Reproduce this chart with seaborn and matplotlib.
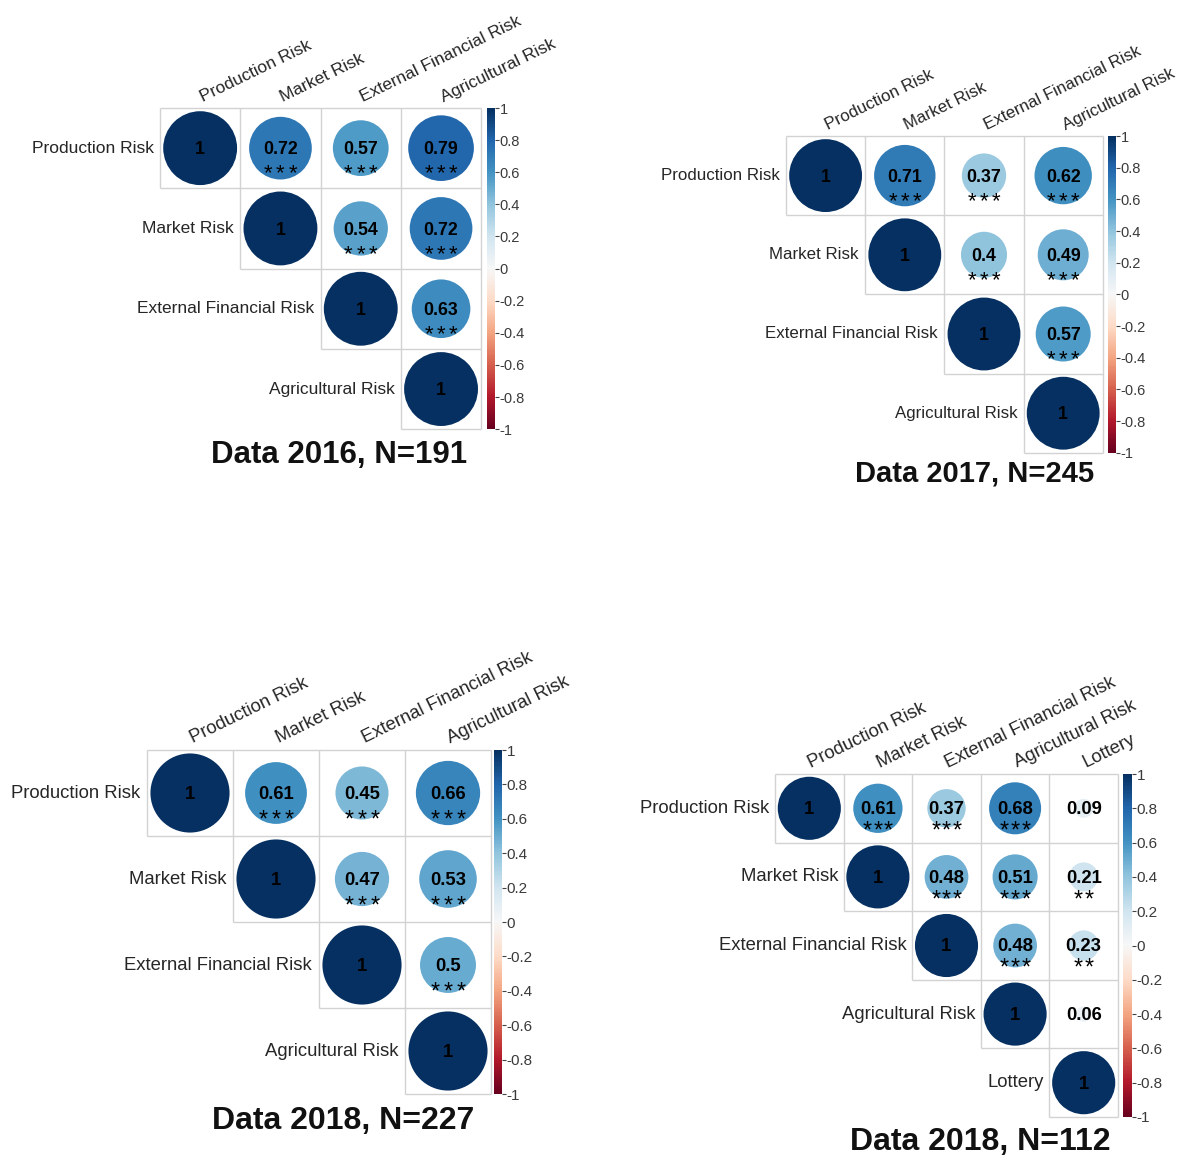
import numpy as np
import pandas as pd
import matplotlib
matplotlib.use("Agg")
import matplotlib.pyplot as plt
import seaborn as sns
from matplotlib.colors import ListedColormap, Normalize
from matplotlib.cm import ScalarMappable

sns.set_style("white")
plt.rcParams["font.family"] = ["Liberation Sans", "DejaVu Sans"]

# ---- variables ----
risks = ["Production Risk", "Market Risk", "External Financial Risk", "Agricultural Risk"]
risks_lottery = ["Production Risk", "Market Risk", "External Financial Risk",
                 "Agricultural Risk", "Lottery"]

# ---- upper-triangle correlations (row by row, off-diagonal) ----
r_2016 = [0.72, 0.57, 0.79,
          0.54, 0.72,
          0.63]
sig_2016 = ["***", "***", "***",
            "***", "***",
            "***"]

r_2017 = [0.71, 0.37, 0.62,
          0.40, 0.49,
          0.57]
sig_2017 = ["***", "***", "***",
            "***", "***",
            "***"]

r_2018 = [0.61, 0.45, 0.66,
          0.47, 0.53,
          0.50]
sig_2018 = ["***", "***", "***",
            "***", "***",
            "***"]

r_2018_lottery = [0.61, 0.37, 0.68, 0.09,
                  0.48, 0.51, 0.21,
                  0.48, 0.23,
                  0.06]
sig_2018_lottery = ["***", "***", "***", "",
                    "***", "***", "**",
                    "***", "**",
                    ""]

titles = ["Data 2016, N=191", "Data 2017, N=245", "Data 2018, N=227", "Data 2018, N=112"]

# ---- figure geometry (pixels) ----
W, H, DPI = 1185, 1160, 100
PX_PER_PT = DPI / 72
fig = plt.figure(figsize=(W / DPI, H / DPI), dpi=DPI)

panels = [
    dict(labels=risks, r=r_2016, sig=sig_2016, title=titles[0],
         left=160, top=108, cell=80.3, cbx=487, cbw=8,
         lab_fs=12.5, num_fs=12.8, cb_fs=10.5, title_xy=(339, 455), title_fs=22.5),
    dict(labels=risks, r=r_2017, sig=sig_2017, title=titles[1],
         left=786, top=136, cell=79.2, cbx=1108, cbw=8,
         lab_fs=12.2, num_fs=12.8, cb_fs=10.5, title_xy=(975, 473), title_fs=21),
    dict(labels=risks, r=r_2018, sig=sig_2018, title=titles[2],
         left=147, top=750, cell=86, cbx=494, cbw=8,
         lab_fs=13.3, num_fs=13.3, cb_fs=11, title_xy=(343, 1121), title_fs=23),
    dict(labels=risks_lottery, r=r_2018_lottery, sig=sig_2018_lottery, title=titles[3],
         left=775, top=774, cell=68.6, cbx=1123, cbw=9,
         lab_fs=13.3, num_fs=13.3, cb_fs=11, title_xy=(980, 1142), title_fs=23),
]

GRID = "#d2d2d2"
LABEL = "#262626"


def fmt(v):
    return f"{v:.2f}".rstrip("0").rstrip(".")


for p in panels:
    labels = p["labels"]
    n = len(labels)
    cell = p["cell"]
    mat = np.eye(n)
    stars = [["" for _ in range(n)] for _ in range(n)]
    k = 0
    for i in range(n):
        for j in range(i + 1, n):
            mat[i, j] = p["r"][k]
            stars[i][j] = p["sig"][k]
            k += 1

    rows = []
    for i in range(n):
        for j in range(i, n):
            rows.append(dict(x=j + 0.5, y=i + 0.5, r=mat[i, j],
                             absr=abs(mat[i, j]), stars=stars[i][j]))
    df = pd.DataFrame(rows)

    size = n * cell
    ax = fig.add_axes([p["left"] / W, 1 - (p["top"] + size) / H, size / W, size / H])

    # white cells of the upper triangle
    mask = np.tril(np.ones((n, n), dtype=bool), k=-1)
    sns.heatmap(mat, mask=mask, cmap=ListedColormap(["white"]), cbar=False,
                linewidths=0, xticklabels=False, yticklabels=False, ax=ax)

    # staircase grid around the upper-triangle cells
    for kk in range(n + 1):
        ax.hlines(kk, max(kk - 1, 0), n, color=GRID, lw=1.0, clip_on=False, zorder=2)
        ax.vlines(kk, 0, min(kk + 1, n), color=GRID, lw=1.0, clip_on=False, zorder=2)

    # circles: area proportional to |r|, colour on RdBu from -1 to 1
    s_max = (0.92 * cell / PX_PER_PT) ** 2
    sns.scatterplot(data=df, x="x", y="y", hue="r", size="absr",
                    palette="RdBu", hue_norm=(-1, 1),
                    size_norm=(0, 1), sizes=(0, s_max),
                    linewidth=0, legend=False, ax=ax, zorder=3)
    ax.set_xlim(0, n)
    ax.set_ylim(n, 0)
    ax.set_xlabel("")
    ax.set_ylabel("")
    ax.set_xticks([])
    ax.set_yticks([])
    for sp in ax.spines.values():
        sp.set_visible(False)

    # coefficients and significance stars
    star_fs = p["num_fs"] * 1.25
    star_base = 0.23 + 0.58 * star_fs * PX_PER_PT / cell
    star_step = 0.155
    for _, row in df.iterrows():
        ax.text(row.x, row.y + 0.02, fmt(row.r), ha="center", va="center",
                fontsize=p["num_fs"], fontweight="bold", color="black", zorder=4)
        m = len(row.stars)
        for s in range(m):
            dx = (s - (m - 1) / 2) * star_step
            ax.text(row.x + dx, row.y + star_base, "*", ha="center",
                    va="baseline", fontsize=star_fs, color="black", zorder=4)

    # row labels next to the diagonal, column labels on top
    for i, lab in enumerate(labels):
        ax.text(i - 0.08, i + 0.5, lab, ha="right", va="center",
                fontsize=p["lab_fs"], color=LABEL)
        ax.text(i + 0.55, -0.04, lab, ha="left", va="bottom", rotation=26,
                rotation_mode="anchor", fontsize=p["lab_fs"], color=LABEL)

    # colour legend
    cax = fig.add_axes([p["cbx"] / W, 1 - (p["top"] + size) / H, p["cbw"] / W, size / H])
    cb = fig.colorbar(ScalarMappable(norm=Normalize(-1, 1), cmap="RdBu"), cax=cax)
    cb.outline.set_visible(False)
    ticks = np.round(np.linspace(-1, 1, 11), 1)
    cb.set_ticks(ticks)
    cb.set_ticklabels([fmt(t) if t >= 0 else "-" + fmt(-t) for t in ticks])
    cax.tick_params(axis="y", length=3, width=0.8, color="#444444", pad=0.5,
                    labelsize=p["cb_fs"], labelcolor="#3a3a3a")

    tx, ty = p["title_xy"]
    fig.text(tx / W, 1 - ty / H, p["title"], ha="center", va="center",
             fontsize=p["title_fs"], fontweight="bold", color="#111111")

fig.savefig("out.png", dpi=DPI)
